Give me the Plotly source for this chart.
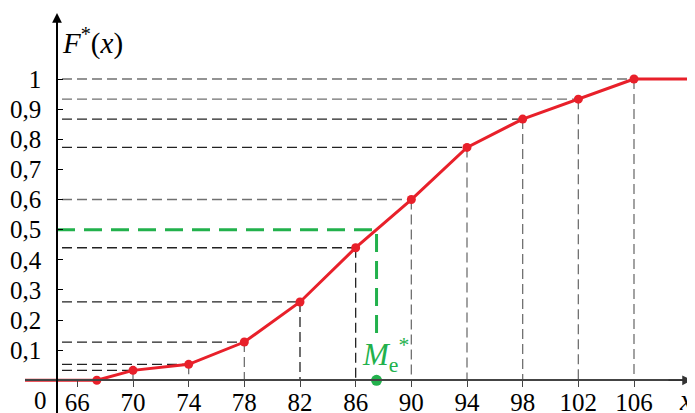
import plotly.graph_objects as go

# ---- data ----
x_vals = [67.4, 70, 74, 78, 82, 86, 90, 94, 98, 102, 106]
F_vals = [0.0, 0.033, 0.053, 0.127, 0.26, 0.44, 0.60, 0.773, 0.867, 0.933, 1.0]
median_x = 87.5
median_F = 0.5
x_tick_vals = [66, 70, 74, 78, 82, 86, 90, 94, 98, 102, 106]
x_tick_text = [str(v) for v in x_tick_vals]
y_tick_vals = [0.1, 0.2, 0.3, 0.4, 0.5, 0.6, 0.7, 0.8, 0.9, 1.0]
y_tick_text = ["0,1", "0,2", "0,3", "0,4", "0,5", "0,6", "0,7", "0,8", "0,9", "1"]

# ---- layout geometry (page pixels; page body has an 8px margin) ----
OFF = 8
W, H = 695 - OFF, 413 - OFF


def px(xp):
    return (xp - OFF) / W


def py(yp):
    return 1 - (yp - OFF) / H


X_PX0, X_PX1 = 25, 695          # x domain edges in page px
Y_PX_TOP = 15                   # y domain top in page px
SCALE_X = (634 - 133) / 36.0    # px per unit
SCALE_Y = 301.3                 # px per unit of F
X70_PX = 133
Y0_PX = 380.3

X_RANGE = [70 - (X70_PX - X_PX0) / SCALE_X, 70 + (X_PX1 - X70_PX) / SCALE_X]
Y_RANGE = [-(413 - Y0_PX) / SCALE_Y, (Y0_PX - Y_PX_TOP) / SCALE_Y]
X_DOMAIN = [px(X_PX0), 1.0]
Y_DOMAIN = [0.0, py(Y_PX_TOP)]
YAXIS_POS = px(57)
XAXIS_POS = py(Y0_PX)

FONT = "Liberation Serif"
RED = "#e8202a"
GREEN = "#22b14c"
DARK = "#222222"
GRAY = "#707070"

# guide lines start a little to the right of the y axis
guide_start = X_RANGE[0] + (62 - X_PX0) / SCALE_X

# colour style of each point's horizontal / vertical guide (same order as x_vals)
h_style = [None, DARK, DARK, DARK, DARK, DARK, GRAY, DARK, DARK, GRAY, GRAY]
v_style = [None, GRAY, GRAY, GRAY, DARK, DARK, GRAY, GRAY, GRAY, GRAY, GRAY]

fig = go.Figure()

for colour in (GRAY, DARK):
    gx, gy = [], []
    for xi, fi, hc, vc in zip(x_vals, F_vals, h_style, v_style):
        if fi <= 0:
            continue
        if hc == colour:
            gx += [guide_start, xi, None]
            gy += [fi, fi, None]
        if vc == colour:
            gx += [xi, xi, None]
            gy += [fi, 0, None]
    fig.add_trace(go.Scatter(x=gx, y=gy, mode="lines",
                             line=dict(color=colour, width=1.3, dash="10px,5px"),
                             hoverinfo="skip", showlegend=False))

# median guide (green)
me_bottom = 0.15
fig.add_trace(go.Scatter(x=[guide_start - 5 / SCALE_X, median_x, median_x],
                         y=[median_F, median_F, me_bottom],
                         mode="lines", line=dict(color=GREEN, width=3, dash="18px,9px"),
                         hoverinfo="skip", showlegend=False))
fig.add_trace(go.Scatter(x=[median_x], y=[0], mode="markers",
                         marker=dict(color=GREEN, size=11, symbol="circle"),
                         cliponaxis=False, hoverinfo="skip", showlegend=False))

# red extensions beyond the data
fig.add_trace(go.Scatter(x=[X_RANGE[0] - 5, x_vals[0]], y=[F_vals[0], F_vals[0]], mode="lines",
                         line=dict(color=RED, width=3), hoverinfo="skip", showlegend=False))
fig.add_trace(go.Scatter(x=[x_vals[-1], X_RANGE[1] + 5], y=[F_vals[-1], F_vals[-1]], mode="lines",
                         line=dict(color=RED, width=3), hoverinfo="skip", showlegend=False))
# cumulative polygon
fig.add_trace(go.Scatter(x=x_vals, y=F_vals, mode="lines+markers",
                         line=dict(color=RED, width=3),
                         marker=dict(color=RED, size=9),
                         cliponaxis=False, showlegend=False))

annotations = [
    dict(text="0", xref="paper", yref="paper", x=px(40), y=py(400),
         showarrow=False, font=dict(family=FONT, size=25, color="black"),
         xanchor="center", yanchor="middle"),
    dict(text="<i>F</i><sup>*</sup>(<i>x</i>)", xref="paper", yref="paper",
         x=px(60), y=py(41), showarrow=False,
         font=dict(family=FONT, size=29, color="black"), xanchor="left", yanchor="middle"),
    dict(text="<i>x</i>", xref="paper", yref="paper", x=px(686), y=py(400),
         showarrow=False, font=dict(family=FONT, size=29, color="black"),
         xanchor="center", yanchor="middle"),
    dict(text="<i>M</i><sub>e</sub><sup>*</sup>", xref="paper", yref="paper",
         x=px(385), y=py(355), showarrow=False,
         font=dict(family=FONT, size=31, color=GREEN), xanchor="center", yanchor="middle"),
    # axis arrows
    dict(text="", xref="paper", yref="paper", x=YAXIS_POS, y=py(13),
         ax=0, ay=25, showarrow=True, arrowhead=2, arrowsize=1.3, arrowwidth=1.5,
         arrowcolor="black"),
    dict(text="", xref="paper", yref="paper", x=px(692), y=XAXIS_POS,
         ax=-25, ay=0, showarrow=True, arrowhead=2, arrowsize=1.3, arrowwidth=1.5,
         arrowcolor="#333333"),
]

fig.update_layout(
    template="none",
    width=W, height=H,
    margin=dict(l=0, r=0, t=0, b=0, pad=0, autoexpand=False),
    paper_bgcolor="white", plot_bgcolor="white",
    showlegend=False,
    font=dict(family=FONT, color="black"),
    annotations=annotations,
    xaxis=dict(range=X_RANGE, domain=X_DOMAIN, anchor="free", position=XAXIS_POS,
               automargin=False,
               showgrid=False, zeroline=False, showline=True, linecolor="#444444", linewidth=1.5,
               tickmode="array", tickvals=x_tick_vals, ticktext=x_tick_text,
               ticks="outside", ticklen=6, tickcolor="#444444", tickwidth=1.2,
               ticklabelstandoff=-6,
               tickfont=dict(family=FONT, size=25, color="black")),
    yaxis=dict(range=Y_RANGE, domain=Y_DOMAIN, anchor="free", position=YAXIS_POS,
               automargin=False,
               showgrid=False, zeroline=False, showline=True, linecolor="black", linewidth=1.5,
               tickmode="array", tickvals=y_tick_vals, ticktext=y_tick_text,
               ticks="inside", ticklen=5, tickcolor="black", tickwidth=1.2,
               ticklabelstandoff=10,
               tickfont=dict(family=FONT, size=25, color="black")),
)

fig.write_html("out.html")
